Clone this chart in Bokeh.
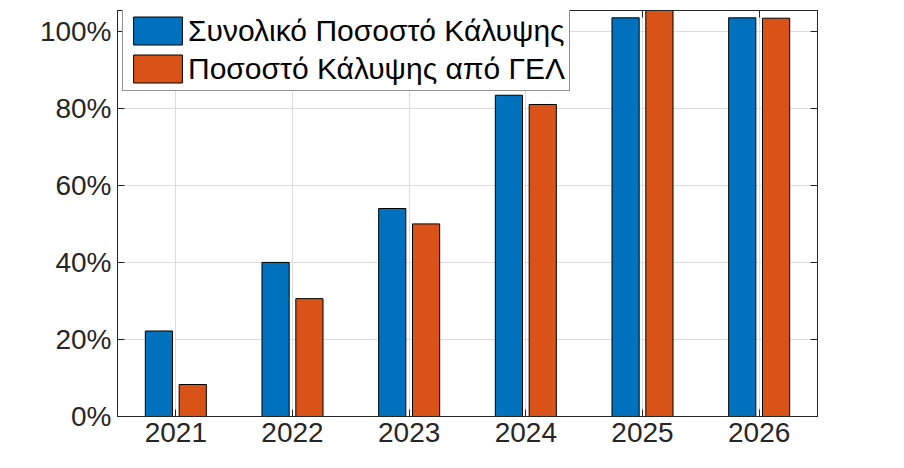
from bokeh.plotting import figure
from bokeh.models import (ColumnDataSource, FactorRange, Range1d, NumeralTickFormatter,
                          LinearAxis, CategoricalAxis, Legend, LegendItem, FixedTicker)
from bokeh.transform import dodge
from bokeh.embed import file_html
from bokeh.resources import INLINE

years = ["2021", "2022", "2023", "2024", "2025", "2026"]
total_cov = [0.222, 0.40, 0.54, 0.834, 1.035, 1.035]
gel_cov = [0.083, 0.306, 0.50, 0.81, 1.07, 1.034]
labels = ["Συνολικό Ποσοστό Κάλυψης", "Ποσοστό Κάλυψης από ΓΕΛ"]
colors = ["#0072BD", "#D95319"]
y_ticks = [0, 0.2, 0.4, 0.6, 0.8, 1.0]

src = ColumnDataSource(dict(year=years, total=total_cov, gel=gel_cov))

FONT = "Liberation Sans"
AX = "#262626"

p = figure(x_range=FactorRange(*years, range_padding=0), y_range=Range1d(0, 1.054),
           frame_width=700, frame_height=406, output_backend="svg", toolbar_location=None,
           min_border_left=117, min_border_right=75, min_border_top=10, min_border_bottom=48,
           x_axis_location=None, y_axis_location=None)
p.background_fill_color = "white"
p.border_fill_color = "white"
p.outline_line_color = AX
p.outline_line_width = 1

r1 = p.vbar(x=dodge("year", -0.145, range=p.x_range), top="total", width=0.233, source=src,
            fill_color=colors[0], line_color="black", line_width=1)
r2 = p.vbar(x=dodge("year", 0.145, range=p.x_range), top="gel", width=0.233, source=src,
            fill_color=colors[1], line_color="black", line_width=1)

def style_axis(ax, labels_on):
    ax.axis_line_color = AX
    ax.major_tick_line_color = AX
    ax.major_tick_in = 7
    ax.major_tick_out = 0
    ax.minor_tick_line_color = None
    if labels_on:
        ax.major_label_text_font = FONT
        ax.major_label_text_font_size = "28px"
        ax.major_label_text_color = AX
        ax.major_label_standoff = 6
    else:
        ax.major_label_text_font_size = "0px"
        ax.major_label_standoff = 0
        ax.major_label_text_alpha = 0

yl = LinearAxis(ticker=FixedTicker(ticks=y_ticks), formatter=NumeralTickFormatter(format="0%"))
style_axis(yl, True)
p.add_layout(yl, "left")
yr = LinearAxis(ticker=FixedTicker(ticks=y_ticks))
style_axis(yr, False)
p.add_layout(yr, "right")
xb = CategoricalAxis()
style_axis(xb, True)
p.add_layout(xb, "below")
xt = CategoricalAxis()
style_axis(xt, False)
p.add_layout(xt, "above")

p.ygrid.ticker = FixedTicker(ticks=y_ticks)
p.grid.grid_line_color = "#dcdcdc"
p.grid.grid_line_width = 1

legend = Legend(items=[LegendItem(label=labels[0], renderers=[r1]),
                       LegendItem(label=labels[1], renderers=[r2])],
                location=(5, 325), margin=0)
legend.label_text_font = FONT
legend.label_text_font_size = "30px"
legend.label_text_color = "black"
legend.glyph_width = 61
legend.glyph_height = 35
legend.label_height = 35
legend.label_standoff = 0
legend.spacing = 3
legend.padding = 4
legend.border_line_color = AX
legend.border_line_width = 1
legend.background_fill_color = "white"
legend.background_fill_alpha = 1
p.add_layout(legend, "center")

open("out.html", "w").write(file_html(p, INLINE))
